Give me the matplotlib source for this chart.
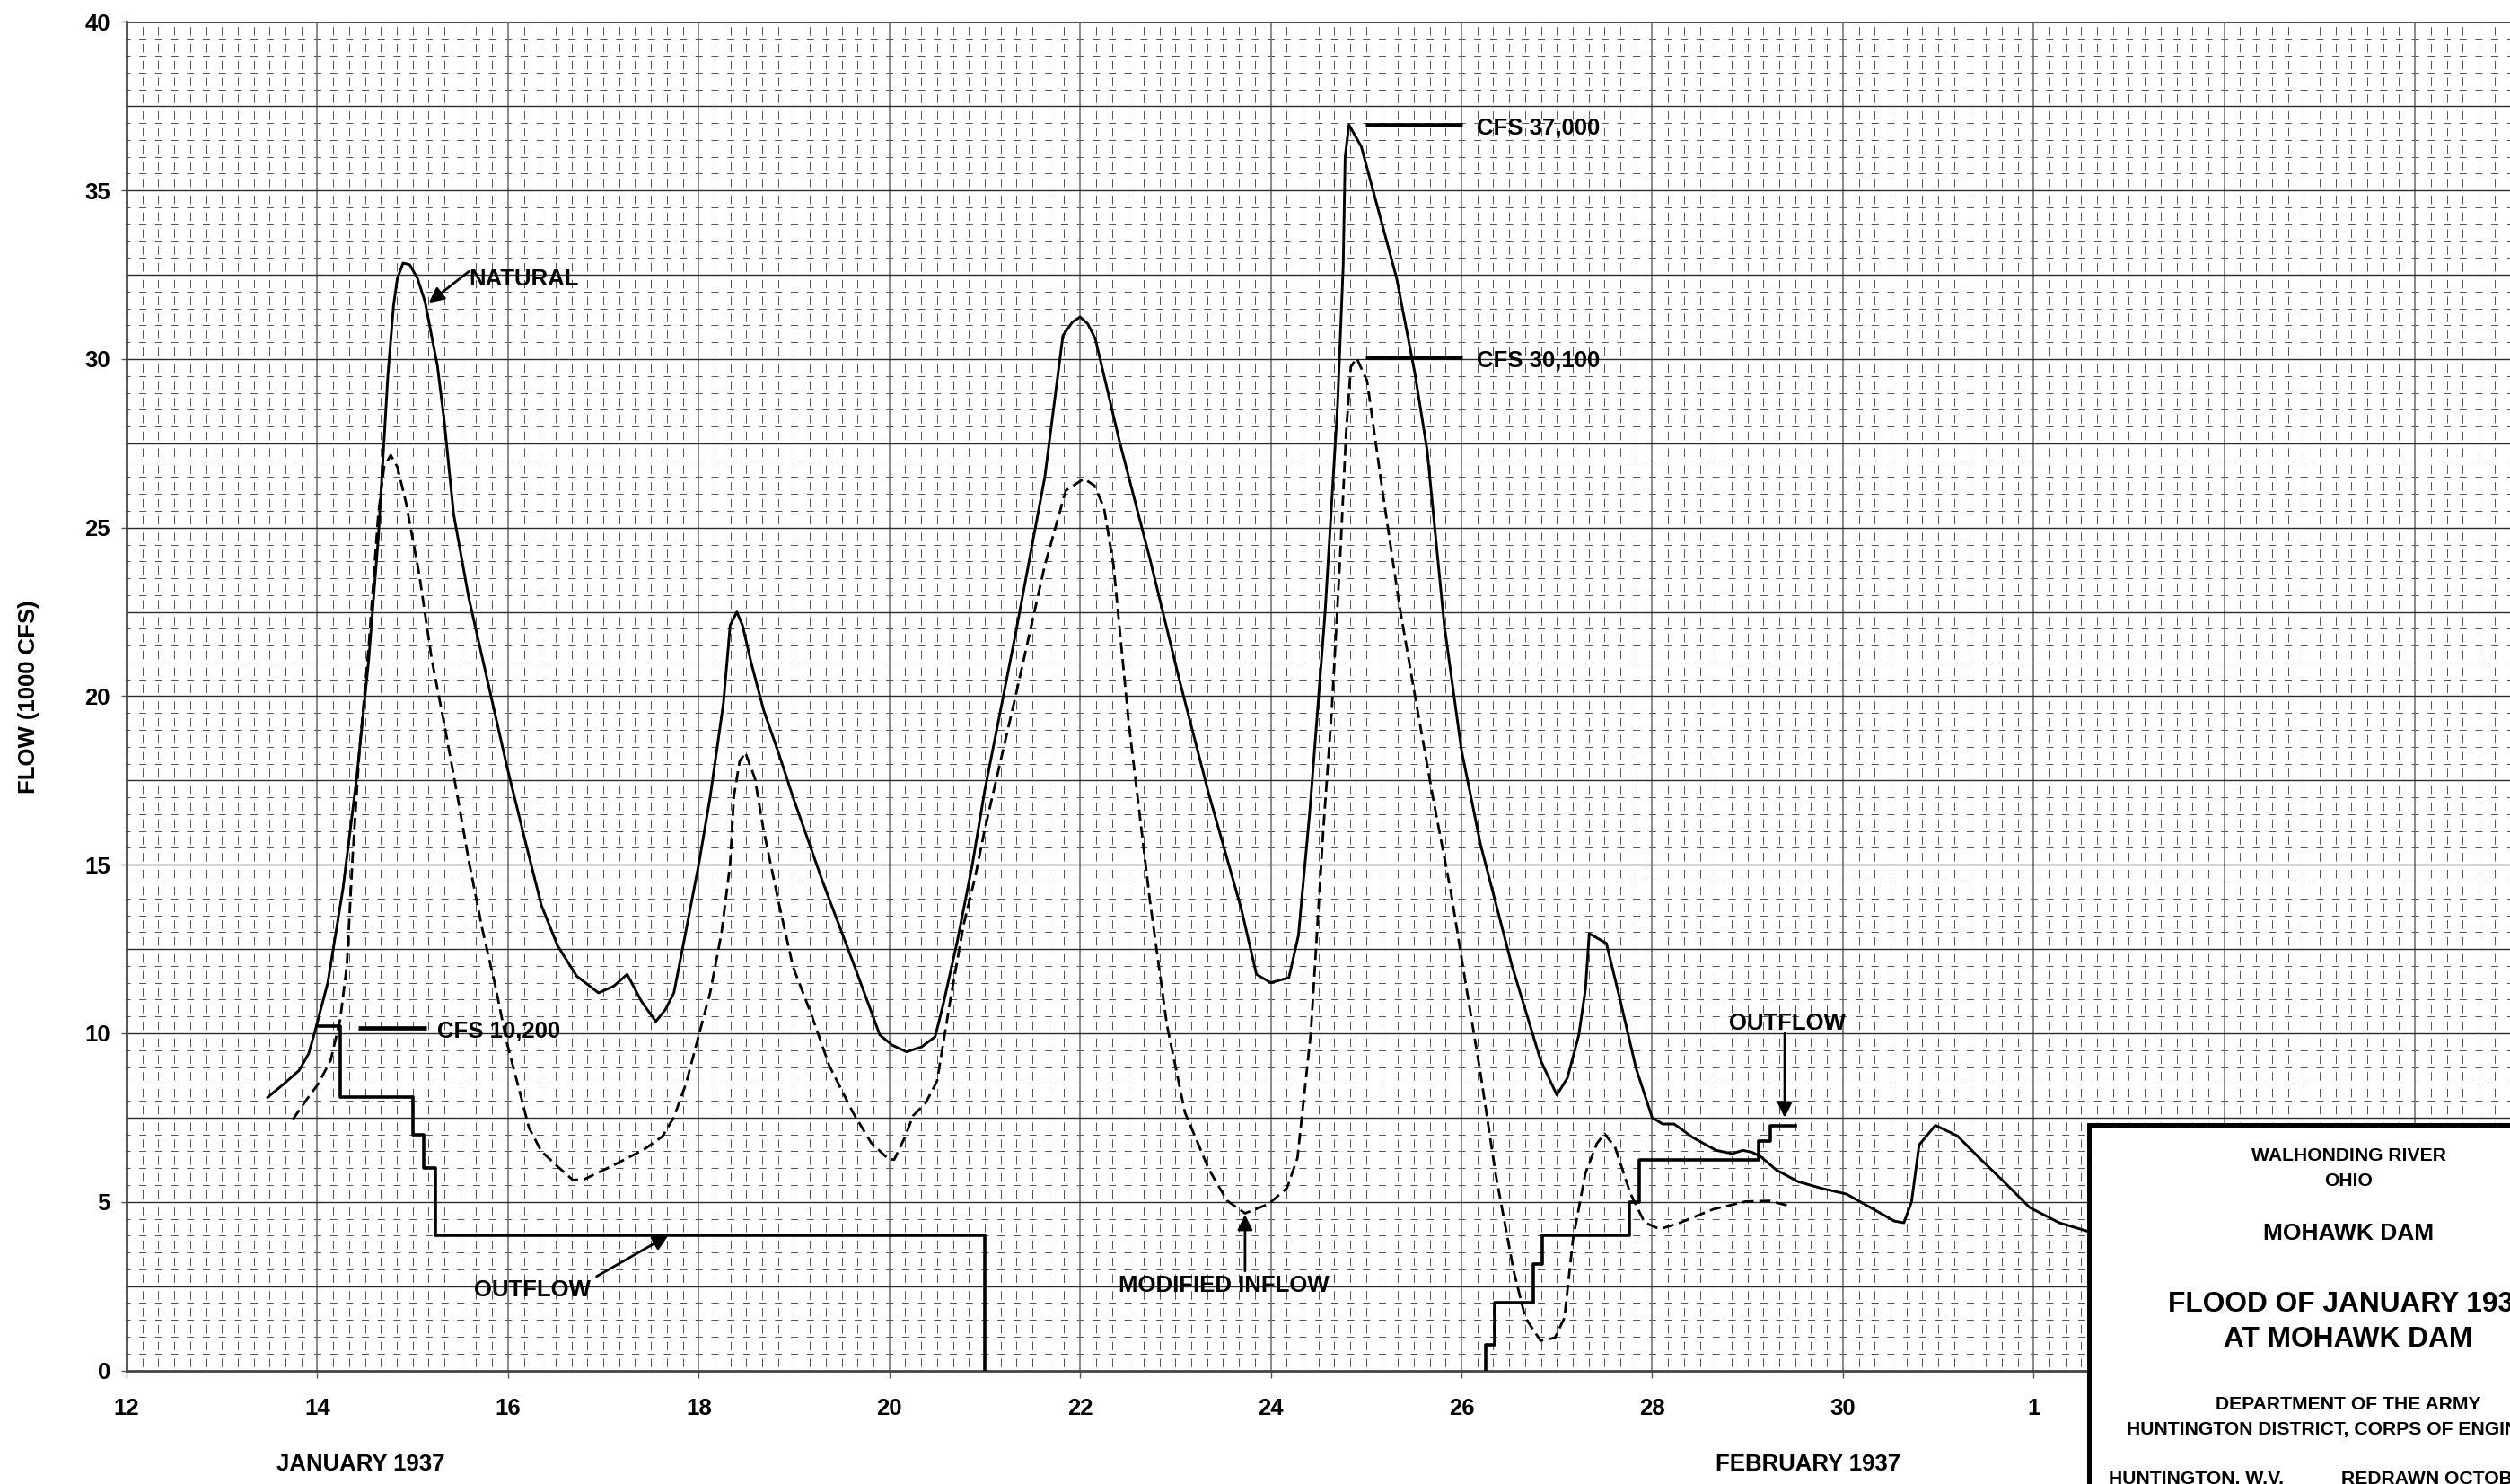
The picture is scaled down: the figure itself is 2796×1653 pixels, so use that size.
import numpy as np
import matplotlib
matplotlib.use("Agg")
import matplotlib.pyplot as plt
from matplotlib.patches import Rectangle

# day scale: January days, 32 = February 1 ; flow in 1000 cfs
natural_day = [13.48, 13.65, 13.81, 13.91, 13.98, 14.11, 14.27, 14.41, 14.54, 14.64,
               14.74, 14.80, 14.84, 14.90, 14.97, 15.05, 15.13, 15.26, 15.33, 15.43,
               15.59, 15.79, 15.99, 16.19, 16.35, 16.52, 16.72, 16.95, 17.11, 17.25,
               17.40, 17.55, 17.65, 17.74, 17.83, 18.00, 18.12, 18.26, 18.33, 18.40,
               18.46, 18.55, 18.68, 18.84, 18.99, 19.30, 19.62, 19.90, 20.03, 20.18,
               20.34, 20.48, 20.56, 20.71, 20.87, 21.00, 21.32, 21.63, 21.82, 21.92,
               22.00, 22.08, 22.16, 22.41, 22.73, 23.04, 23.35, 23.69, 23.85, 24.00,
               24.19, 24.29, 24.41, 24.57, 24.70, 24.76, 24.78, 24.82, 24.95, 25.13,
               25.32, 25.51, 25.64, 25.82, 26.00, 26.20, 26.53, 26.83, 27.00, 27.11,
               27.23, 27.30, 27.34, 27.52, 27.67, 27.83, 28.00, 28.11, 28.23, 28.42,
               28.67, 28.84, 28.95, 29.05, 29.14, 29.30, 29.53, 29.78, 30.04, 30.29,
               30.54, 30.64, 30.72, 30.80, 30.97, 31.20, 31.45, 31.71, 31.96, 32.27,
               32.60]
natural_flow = [8.1, 8.5, 8.9, 9.4, 10.1, 11.5, 14.3, 17.5, 21.1, 24.7,
                29.5, 31.6, 32.4, 32.85, 32.8, 32.4, 31.7, 29.8, 28.2, 25.4,
                22.9, 20.4, 17.9, 15.6, 13.8, 12.6, 11.7, 11.2, 11.4, 11.75,
                10.95, 10.35, 10.7, 11.2, 12.5, 15.0, 17.0, 19.8, 22.1, 22.5,
                22.1, 21.0, 19.6, 18.3, 17.0, 14.5, 12.1, 9.95, 9.65, 9.45,
                9.6, 9.9, 10.8, 12.7, 15.0, 17.2, 21.8, 26.5, 30.7, 31.1,
                31.25, 31.05, 30.6, 27.6, 24.1, 20.5, 17.1, 13.7, 11.75, 11.5,
                11.65, 12.9, 16.6, 22.5, 28.6, 32.8, 36.0, 36.95, 36.3, 34.4,
                32.4, 29.6, 27.3, 22.1, 18.4, 15.6, 12.0, 9.2, 8.17, 8.67,
                9.94, 11.3, 12.96, 12.67, 10.92, 8.97, 7.5, 7.31, 7.31, 6.92,
                6.53, 6.43, 6.53, 6.47, 6.34, 5.95, 5.6, 5.4, 5.23, 4.83,
                4.43, 4.38, 5.0, 6.69, 7.27, 6.96, 6.25, 5.54, 4.83, 4.38,
                4.1]

modified_day = [13.745, 13.88, 14.01, 14.14, 14.24, 14.31, 14.37, 14.44, 14.54, 14.64,
                14.70, 14.77, 14.84, 14.93, 15.07, 15.20, 15.33, 15.46, 15.59, 15.73,
                15.86, 15.99, 16.12, 16.22, 16.35, 16.52, 16.68, 16.80, 17.11, 17.43,
                17.62, 17.74, 17.87, 18.00, 18.12, 18.24, 18.33, 18.37, 18.43, 18.49,
                18.59, 18.68, 18.84, 18.99, 19.18, 19.37, 19.62, 19.81, 19.99, 20.05,
                20.16, 20.25, 20.38, 20.50, 20.64, 20.78, 20.90, 21.00, 21.32, 21.63,
                21.85, 22.04, 22.15, 22.25, 22.35, 22.51, 22.73, 22.91, 23.10, 23.35,
                23.54, 23.73, 23.98, 24.17, 24.28, 24.42, 24.55, 24.64, 24.73, 24.79,
                24.84, 24.90, 25.01, 25.17, 25.35, 25.51, 25.70, 25.89, 26.04, 26.20,
                26.36, 26.55, 26.67, 26.83, 26.98, 27.08, 27.17, 27.30, 27.42, 27.50,
                27.61, 27.77, 27.92, 28.08, 28.30, 28.64, 28.98, 29.23, 29.45]
modified_flow = [7.45, 8.0, 8.5, 9.2, 10.4, 12.0, 15.2, 18.3, 21.5, 25.4,
                 26.8, 27.15, 26.8, 25.75, 23.6, 21.1, 19.2, 17.2, 15.1, 13.1,
                 11.5, 9.7, 8.3, 7.2, 6.5, 6.05, 5.65, 5.67, 6.09, 6.56,
                 6.94, 7.51, 8.53, 9.93, 11.2, 12.98, 15.02, 17.05, 18.07, 18.33,
                 17.56, 16.04, 13.87, 11.97, 10.57, 9.04, 7.64, 6.75, 6.27, 6.25,
                 6.9, 7.56, 7.93, 8.58, 11.0, 13.24, 14.64, 16.04, 19.96, 23.88,
                 26.1, 26.45, 26.25, 25.6, 23.9, 19.22, 13.99, 10.26, 7.65, 5.97,
                 5.04, 4.66, 4.94, 5.41, 6.3, 10.0, 16.0, 19.59, 24.25, 27.8,
                 29.77, 30.03, 29.36, 26.12, 22.68, 20.05, 17.01, 14.18, 11.55, 8.8,
                 5.8, 2.92, 1.56, 0.88, 0.97, 1.56, 3.9, 5.85, 6.73, 7.02,
                 6.63, 5.26, 4.39, 4.19, 4.39, 4.78, 5.01, 5.03, 4.87]

outflow1_day = [14.0, 14.24, 15.0, 15.12, 15.24, 21.0]
outflow1_flow = [10.2, 8.1, 7.0, 6.0, 4.0, 0.0]
outflow2_day = [26.25, 26.25, 26.35, 26.75, 26.85, 27.76, 27.86, 29.12, 29.24, 29.5]
outflow2_flow = [0.0, 0.75, 2.0, 3.15, 4.0, 5.0, 6.25, 6.8, 7.25, 7.25]

peak_labels = ["CFS 10,200", "CFS 37,000", "CFS 30,100"]
peak_flow = [10.15, 36.95, 30.05]

x_ticks = list(range(12, 33, 2))
x_tick_labels = ["12", "14", "16", "18", "20", "22", "24", "26", "28", "30", "1"]
y_ticks = list(range(0, 41, 5))

title_lines = ["WALHONDING RIVER", "OHIO", "MOHAWK DAM", "FLOOD OF JANUARY 1937",
               "AT MOHAWK DAM", "DEPARTMENT OF THE ARMY",
               "HUNTINGTON DISTRICT, CORPS OF ENGINEERS"]

plt.rcParams['font.family'] = ['Liberation Sans', 'DejaVu Sans']
plt.rcParams['font.weight'] = 'bold'
plt.rcParams['lines.scale_dashes'] = False

W, H, DPI = 2796, 1653, 100
fig = plt.figure(figsize=(W / DPI, H / DPI), dpi=DPI)
fig.patch.set_facecolor('white')

def fx(px):
    return px / W

def fy(py):
    return 1 - py / H

# axes run past the right edge of the sheet (day 40)
ax = fig.add_axes([fx(141), fy(1526.5), (3115 - 141) / W, (1526.5 - 24.5) / H])
ax.set_xlim(12, 40)
ax.set_ylim(0, 40)

# graph-paper grid
pt = 72 / DPI
cell_w = (3115 - 141) / 28 / 6 * pt        # 4 hours
cell_h = (1526.5 - 24.5) / 40 * 0.5 * pt   # 500 cfs
v_on, v_off = 0.5 * cell_h, 0.5 * cell_h
h_on, h_off = 0.45 * cell_w, 0.55 * cell_w

xs_minor = [x for x in np.arange(12, 40.01, 1 / 6) if abs(x / 2 - round(x / 2)) > 1e-6]
ys_minor = [y for y in np.arange(0, 40.01, 0.5) if abs(y / 2.5 - round(y / 2.5)) > 1e-6]
ax.vlines(xs_minor, 0, 40, colors='#454545', linewidth=0.65,
          linestyles=[(v_on + v_off / 2, (v_on, v_off))], zorder=0.5)
ax.hlines(ys_minor, 12, 40, colors='#454545', linewidth=0.65,
          linestyles=[(h_on / 2, (h_on, h_off))], zorder=0.5)
ax.vlines(np.arange(14, 40.01, 2), 0, 40, colors='#6a6a6a', linewidth=1.1, zorder=0.6)
ax.hlines(np.arange(2.5, 39.9, 2.5), 12, 40, colors='#2a2a2a', linewidth=1.0, zorder=0.6)

# hydrographs
ax.plot(natural_day, natural_flow, color='black', linewidth=2.1, zorder=3,
        solid_joinstyle='round')
ax.plot(modified_day, modified_flow, color='black', linewidth=2.0,
        linestyle=(0, (9, 4.5)), zorder=3)
ax.plot(outflow1_day, outflow1_flow, color='black', linewidth=2.6,
        drawstyle='steps-post', zorder=3)
ax.plot(outflow2_day, outflow2_flow, color='black', linewidth=2.6,
        drawstyle='steps-post', zorder=3)

# peak markers
peak_spans = [(14.43, 15.14), (24.99, 26.01), (24.99, 26.01)]
peak_text_x = [15.26, 26.16, 26.16]
for (x0, x1), tx, q, lab in zip(peak_spans, peak_text_x, peak_flow, peak_labels):
    ax.plot([x0, x1], [q, q], color='black', linewidth=3.4, solid_capstyle='butt', zorder=3)
    ax.text(tx, q - 0.1, lab, fontsize=18.5, fontweight='bold', ha='left', va='center', zorder=4)

arrow = dict(arrowstyle='-|>,head_length=0.5,head_width=0.25', color='black',
             linewidth=2.0, shrinkA=0, shrinkB=0, mutation_scale=20)
ax.annotate('', xy=(15.17, 31.67), xytext=(15.59, 32.6), arrowprops=arrow, zorder=4)
ax.text(15.59, 32.38, "NATURAL", fontsize=18.5, fontweight='bold', ha='left', va='center')

ax.annotate('', xy=(17.68, 4.0), xytext=(16.93, 2.79), arrowprops=arrow, zorder=4)
ax.text(15.64, 2.39, "OUTFLOW", fontsize=18.5, fontweight='bold', ha='left', va='center')

ax.annotate('', xy=(23.73, 4.62), xytext=(23.73, 2.95), arrowprops=arrow, zorder=4)
ax.text(22.40, 2.52, "MODIFIED INFLOW", fontsize=18.5, fontweight='bold', ha='left', va='center')

ax.annotate('', xy=(29.39, 7.5), xytext=(29.39, 10.0), arrowprops=arrow, zorder=4)
ax.text(28.81, 10.3, "OUTFLOW", fontsize=18.5, fontweight='bold', ha='left', va='center')

# axes styling
ax.set_xticks(x_ticks)
ax.set_xticklabels(x_tick_labels, fontsize=18.5, fontweight='bold')
ax.set_yticks(y_ticks)
ax.set_yticklabels([str(v) for v in y_ticks], fontsize=18.5, fontweight='bold')
ax.tick_params(axis='x', direction='out', length=6, width=1.0, color='#555555', pad=16)
ax.tick_params(axis='y', direction='out', length=4, width=1.0, color='#555555', pad=9)
for side in ['left', 'bottom']:
    ax.spines[side].set_linewidth(2.0)
    ax.spines[side].set_color('#444444')
ax.spines['top'].set_linewidth(1.5)
ax.spines['top'].set_color('#555555')
ax.spines['right'].set_visible(False)

fig.text(fx(32), fy(776), "FLOW (1000 CFS)", rotation=90, fontsize=18.5,
         fontweight='bold', ha='center', va='center')
fig.text(fx(402), fy(1638), "JANUARY 1937", fontsize=18.5, fontweight='bold',
         ha='center', va='baseline')
fig.text(fx(2014), fy(1638), "FEBRUARY 1937", fontsize=18.5, fontweight='bold',
         ha='center', va='baseline')

# title block (runs off the sheet)
fig.add_artist(Rectangle((fx(2327), fy(1800)), 0.5, (1800 - 1253) / H,
                         transform=fig.transFigure, facecolor='white',
                         edgecolor='black', linewidth=3.6, zorder=5))
title_base = [1293, 1321, 1381, 1461, 1500, 1570, 1598]
title_size = [15.2, 15.2, 19, 22.8, 22.8, 15.2, 15.2]
for s, yb, fs in zip(title_lines, title_base, title_size):
    fig.text(fx(2616), fy(yb), s, fontsize=fs, fontweight='bold',
             ha='center', va='baseline', zorder=6)
fig.text(fx(2349), fy(1653), "HUNTINGTON, W.V.", fontsize=15.2, fontweight='bold',
         ha='left', va='baseline', zorder=6)
fig.text(fx(2608), fy(1653), "REDRAWN OCTOBER", fontsize=15.2, fontweight='bold',
         ha='left', va='baseline', zorder=6)

fig.savefig("out.png", dpi=DPI)
